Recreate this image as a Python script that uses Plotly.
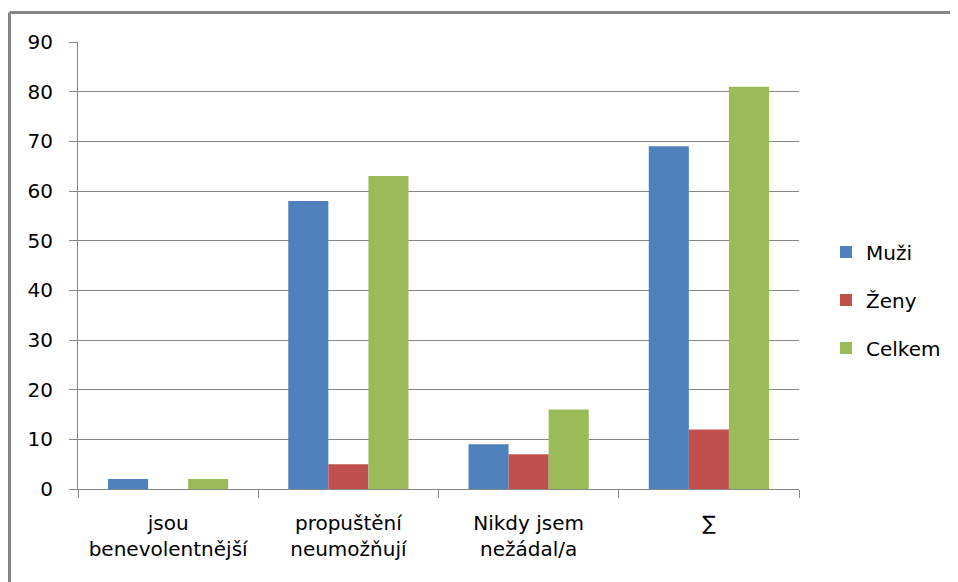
import plotly.graph_objects as go

categories = ["jsou<br>benevolentnější", "propuštění<br>neumožňují", "Nikdy jsem<br>nežádal/a", "∑"]
muzi = [2, 58, 9, 69]
zeny = [0, 5, 7, 12]
celkem = [2, 63, 16, 81]
y_ticks = [0, 10, 20, 30, 40, 50, 60, 70, 80, 90]

# page offset caused by the default body margin of the html page
OX, OY = 8, 8
W, H = 958 - OX, 582 - OY
L, R, T, B = 78 - OX, 799 - OX, 42 - OY, 489 - OY
FONT = "DejaVu Sans"
GRID = "#868686"

fig = go.Figure()
series = [("Muži", muzi, "#4F81BD"), ("Ženy", zeny, "#C0504D"), ("Celkem", celkem, "#9BBB59")]
for name, vals, col in series:
    fig.add_trace(go.Bar(x=categories, y=vals, name=name, marker=dict(color=col, line=dict(width=0)),
                         legendgroup=name))

pw = R - L
ph = B - T
def px_x(px):
    return (px - OX - L) / pw
def px_y(py):
    return (B - (py - OY)) / ph

fig.update_layout(
    width=W, height=H,
    margin=dict(l=L, r=W - R, t=T, b=H - B),
    paper_bgcolor="white", plot_bgcolor="white",
    barmode="group", bargap=0.333, bargroupgap=0,
    font=dict(family=FONT, size=20, color="black"),
    legend=dict(x=px_x(826), y=px_y(300), xanchor="left", yanchor="middle",
                traceorder="grouped", tracegroupgap=19,
                font=dict(family=FONT, size=20, color="black"),
                bgcolor="rgba(0,0,0,0)"),
    xaxis=dict(type="category", showgrid=False, showline=True, linecolor=GRID, linewidth=1,
               ticks="outside", ticklen=8, tickcolor=GRID, tickson="boundaries",
               tickfont=dict(family=FONT, size=20, color="black"), ticklabelstandoff=16),
    yaxis=dict(range=[0, 90], tickvals=y_ticks, showgrid=True, gridcolor=GRID, gridwidth=1,
               showline=True, linecolor=GRID, linewidth=1, ticks="outside", ticklen=8,
               tickcolor=GRID, zeroline=False,
               tickfont=dict(family=FONT, size=20, color="black"), ticklabelstandoff=12),
    showlegend=True,
)

# outer chart frame (left and top edges visible)
fx = px_x(9.5)
fy = px_y(12.5)
fig.add_shape(type="line", xref="paper", yref="paper", x0=fx, x1=fx, y0=px_y(600), y1=fy,
              line=dict(color=GRID, width=3))
fig.add_shape(type="line", xref="paper", yref="paper", x0=fx, x1=px_x(980), y0=fy, y1=fy,
              line=dict(color=GRID, width=3))

fig.write_html("out.html")
